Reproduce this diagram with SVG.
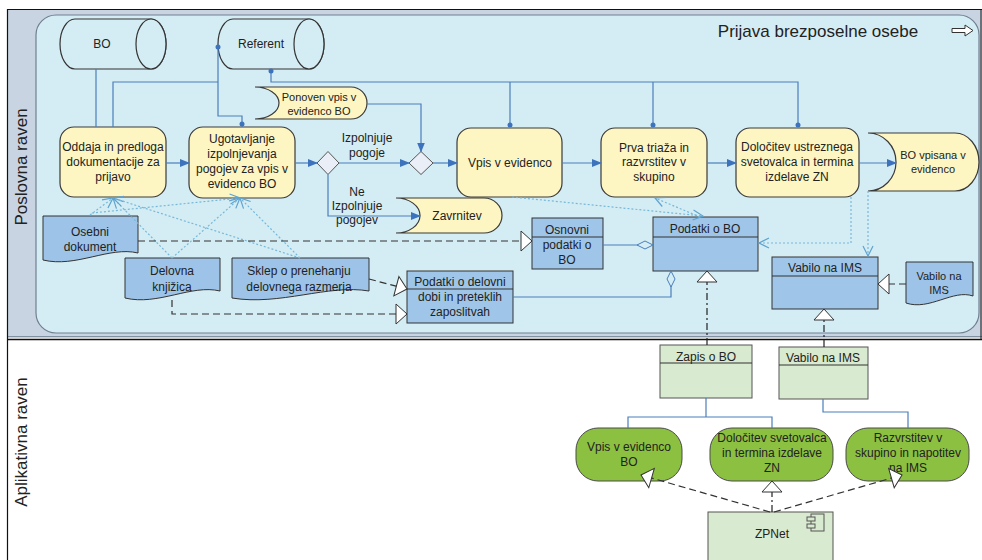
<svg xmlns="http://www.w3.org/2000/svg" width="982" height="560" viewBox="0 0 982 560">
<style>
.t{font-family:"Liberation Sans",Arial,sans-serif;font-size:12px;fill:#222;text-anchor:middle}
.s11{font-size:11px}
.lane{font-family:"Liberation Sans",Arial,sans-serif;font-size:17px;fill:#222;text-anchor:middle}
.yel{fill:#fdf6c3;stroke:#3a3a3a;stroke-width:1.2}
.cyl{fill:#d4edf4;stroke:#333;stroke-width:1.2}
.doc{fill:#9dc4e8;stroke:#333;stroke-width:1}
.cls{fill:#9fc6e9;stroke:#333;stroke-width:1}
.gw{fill:#e9eef7;stroke:#555;stroke-width:1}
.grn{fill:#8cc040;stroke:#4a4a4a;stroke-width:1}
.lg{fill:#d8eacf;stroke:#555;stroke-width:1}
.sep{stroke:#333;stroke-width:1;fill:none}
.flow{stroke:#4a7ebb;stroke-width:1.2;fill:none}
.dash{stroke:#333;stroke-width:1.2;stroke-dasharray:7 4;fill:none}
.dd{stroke:#222;stroke-width:1.2;stroke-dasharray:7 3 2 3;fill:none}
.dot{stroke:#77b8d8;stroke-width:1.2;stroke-dasharray:2 2;fill:none}
.pt{fill:#3d72bd}
</style>
<defs>
<marker id="fa" markerUnits="userSpaceOnUse" markerWidth="10" markerHeight="8" refX="9" refY="4" orient="auto"><path d="M0,0 L10,4 L0,8 Z" fill="#3d72bd"/></marker>
<marker id="tri" markerUnits="userSpaceOnUse" markerWidth="14" markerHeight="24" refX="12" refY="11" orient="auto"><path d="M1,1 L12,11 L1,21 Z" fill="#fff" stroke="#333" stroke-width="1"/></marker>
<marker id="dia" markerUnits="userSpaceOnUse" markerWidth="19" markerHeight="11" refX="17" refY="5" orient="auto"><path d="M1,5 L9,1 L17,5 L9,9 Z" fill="#d4edf4" stroke="#4a7ebb" stroke-width="1"/></marker>
<marker id="va" markerUnits="userSpaceOnUse" markerWidth="13" markerHeight="13" refX="11" refY="6" orient="auto"><path d="M1,1 L11,6 L1,11" fill="none" stroke="#5fa3d0" stroke-width="1.2"/></marker>
</defs>

<!-- lanes -->
<g id="lanes">
<rect x="7" y="9" width="975" height="329" fill="#c9d4e3"/>
<rect x="36" y="15" width="943" height="318" rx="20" fill="#d4edf4" stroke="#6f7f8f" stroke-width="1.2"/>
<line x1="7" y1="336.5" x2="982" y2="336.5" stroke="#8090a0" stroke-width="1"/>
<line x1="7" y1="9.5" x2="982" y2="9.5" stroke="#111" stroke-width="1.2"/>
<line x1="981" y1="9" x2="981" y2="339" stroke="#111" stroke-width="1"/>
<line x1="7" y1="339.5" x2="982" y2="339.5" stroke="#111" stroke-width="1.5"/>
<line x1="7.5" y1="9" x2="7.5" y2="560" stroke="#111" stroke-width="1.2"/>
<text class="lane" transform="translate(27,167) rotate(-90)">Poslovna raven</text>
<text class="lane" transform="translate(27,442) rotate(-90)">Aplikativna raven</text>
<text class="lane" x="818" y="37">Prijava brezposelne osebe</text>
<path d="M952,28.5 H965 V25 L973,30.5 L965,36 V32.5 H952 Z" fill="#fff" stroke="#333" stroke-width="1"/>
</g>

<!-- nodes -->
<g id="bo"><path class="cyl" d="M75,19 H151 A15,25 0 0 1 151,69 H75 A15,25 0 0 1 75,19 Z"/><ellipse class="cyl" cx="151" cy="44" rx="15" ry="25"/><text class="t" x="102" y="48">BO</text></g>
<g id="referent"><path class="cyl" d="M233,19 H309 A15,25 0 0 1 309,69 H233 A15,25 0 0 1 233,19 Z"/><ellipse class="cyl" cx="309" cy="44" rx="15" ry="25"/><text class="t" x="261" y="48">Referent</text></g>
<g id="oddaja"><rect class="yel" x="60" y="127" width="106" height="70" rx="14"/><text class="t" x="113" y="151">Oddaja in predloga</text><text class="t" x="113" y="166">dokumentacije za</text><text class="t" x="113" y="181">prijavo</text></g>
<g id="ugotavljanje"><rect class="yel" x="189" y="127" width="106" height="71" rx="14"/><text class="t" x="242" y="143">Ugotavljanje</text><text class="t" x="242" y="158">izpolnjevanja</text><text class="t" x="242" y="173">pogojev za vpis v</text><text class="t" x="242" y="188">evidenco BO</text></g>
<g id="gw1"><polygon class="gw" points="317,163 328,151.5 339,163 328,174.5"/></g>
<g id="gw2"><polygon class="gw" points="409,163 421,151.5 433,163 421,174.5"/></g>
<g id="lbl-izp"><text class="t" x="367" y="142">Izpolnjuje</text><text class="t" x="367" y="157">pogoje</text></g>
<g id="lbl-ne"><text class="t" x="357" y="196">Ne</text><text class="t" x="357" y="210">Izpolnjuje</text><text class="t" x="357" y="224">pogojev</text></g>
<g id="ponoven"><path class="yel" d="M255,87 H351 A16,16 0 0 1 351,119 H255 A24,16 0 0 0 255,87 Z"/><text class="t s11" x="319" y="101">Ponoven vpis v</text><text class="t s11" x="319" y="115">evidenco BO</text></g>
<g id="zavrnitev"><path class="yel" d="M396,198 H484 A18,17.5 0 0 1 484,233 H396 A24,17.5 0 0 0 396,198 Z"/><text class="t" x="457" y="220">Zavrnitev</text></g>
<g id="vpis"><rect class="yel" x="457" y="128" width="105" height="69" rx="14"/><text class="t" x="510" y="167">Vpis v evidenco</text></g>
<g id="prva"><rect class="yel" x="601" y="128" width="106" height="69" rx="14"/><text class="t" x="654" y="152">Prva triaža in</text><text class="t" x="654" y="166">razvrstitev v</text><text class="t" x="654" y="181">skupino</text></g>
<g id="dolocitev"><rect class="yel" x="736" y="128" width="123" height="69" rx="14"/><text class="t" x="797" y="151">Določitev ustreznega</text><text class="t" x="797" y="166">svetovalca in termina</text><text class="t" x="797" y="181">izdelave ZN</text></g>
<g id="bovpisana"><path class="yel" d="M868,133 H955 A24,29 0 0 1 955,191 H868 A28,29 0 0 0 868,133 Z"/><text class="t s11" x="933" y="159">BO vpisana v</text><text class="t s11" x="933" y="173">evidenco</text></g>

<g id="osebni"><path class="doc" d="M43,216 H138 V253 C109.5,246 76,268 43,260 Z"/><text class="t" x="90" y="236">Osebni</text><text class="t" x="90" y="251">dokument</text></g>
<g id="delovna"><path class="doc" d="M125,258 H220 V291 C191.5,284 158,306 125,298 Z"/><text class="t" x="172" y="275">Delovna</text><text class="t" x="172" y="291">knjižica</text></g>
<g id="sklep"><path class="doc" d="M232,258 H369 V291 C328,284 280,306 232,298 Z"/><text class="t" x="299" y="275">Sklep o prenehanju</text><text class="t" x="299" y="291">delovnega razmerja</text></g>
<g id="osnovni"><rect class="cls" x="532" y="218" width="71" height="51"/><line class="sep" x1="532" y1="237" x2="603" y2="237"/><text class="t" x="567" y="234">Osnovni</text><text class="t" x="567" y="249">podatki o</text><text class="t" x="567" y="264">BO</text></g>
<g id="delovnadoba"><rect class="cls" x="407" y="271" width="106" height="52"/><line class="sep" x1="407" y1="289" x2="513" y2="289"/><text class="t" x="460" y="286">Podatki o delovni</text><text class="t" x="460" y="301">dobi in preteklih</text><text class="t" x="460" y="316">zaposlitvah</text></g>
<g id="podatkibo"><rect class="cls" x="653" y="217" width="105" height="54"/><line class="sep" x1="653" y1="237" x2="758" y2="237"/><text class="t" x="705" y="233">Podatki o BO</text></g>
<g id="vabilocls"><rect class="cls" x="772" y="257" width="106" height="52"/><line class="sep" x1="772" y1="276" x2="878" y2="276"/><text class="t" x="825" y="272">Vabilo na IMS</text></g>
<g id="vabilodoc"><path class="doc" d="M906,262 H973 V296 C953,289 929.5,311 906,303 Z"/><text class="t s11" x="939" y="280">Vabilo na</text><text class="t s11" x="939" y="294">IMS</text></g>

<g id="zapis"><rect class="lg" x="660" y="345" width="92" height="53"/><line class="sep" x1="660" y1="363" x2="752" y2="363"/><text class="t" x="706" y="361">Zapis o BO</text></g>
<g id="vabiloapp"><rect class="lg" x="779" y="347" width="89" height="52"/><line class="sep" x1="779" y1="365" x2="868" y2="365"/><text class="t" x="823" y="362">Vabilo na IMS</text></g>
<g id="svc-vpis"><rect class="grn" x="576" y="428" width="106" height="53" rx="22"/><text class="t" x="629" y="451">Vpis v evidenco</text><text class="t" x="629" y="466">BO</text></g>
<g id="svc-dol"><rect class="grn" x="710" y="428" width="123" height="53" rx="22"/><text class="t" x="772" y="442">Določitev svetovalca</text><text class="t" x="772" y="457">in termina izdelave</text><text class="t" x="772" y="472">ZN</text></g>
<g id="svc-raz"><rect class="grn" x="846" y="428" width="123" height="53" rx="22"/><text class="t" x="908" y="442">Razvrstitev v</text><text class="t" x="908" y="457">skupino in napotitev</text><text class="t" x="908" y="472">na IMS</text></g>
<g id="zpnet"><rect class="lg" x="708" y="512" width="125" height="60"/><rect class="lg" x="811" y="514" width="13" height="17"/><rect class="lg" x="807" y="517" width="8" height="4"/><rect class="lg" x="807" y="524" width="8" height="4"/><text class="t" x="772" y="538">ZPNet</text></g>

<!-- connectors -->
<g id="connectors">
<path class="flow" d="M96,69 V127"/>
<path class="flow" d="M113,127 V82 H218"/>
<path class="flow" d="M218,47 V116 H242 V127"/>
<path class="flow" d="M271,70 V82 H798 V127"/>
<path class="flow" d="M510,82 V127"/>
<path class="flow" d="M653,82 V127"/>
<circle class="pt" cx="218" cy="47" r="2.5"/>
<circle class="pt" cx="242" cy="124" r="2.5"/>
<circle class="pt" cx="271" cy="71" r="2.5"/>
<circle class="pt" cx="510" cy="125" r="2.5"/>
<circle class="pt" cx="653" cy="125" r="2.5"/>
<circle class="pt" cx="798" cy="125" r="2.5"/>
<path class="flow" d="M166,163 H189" marker-end="url(#fa)"/>
<path class="flow" d="M295,163 H317" marker-end="url(#fa)"/>
<path class="flow" d="M339,163 H409" marker-end="url(#fa)"/>
<path class="flow" d="M328,174.5 V216 H420" marker-end="url(#fa)"/>
<path class="flow" d="M367,104 H421 V151.5" marker-end="url(#fa)"/>
<path class="flow" d="M433,163 H457" marker-end="url(#fa)"/>
<path class="flow" d="M562,163 H601" marker-end="url(#fa)"/>
<path class="flow" d="M707,163 H736" marker-end="url(#fa)"/>
<path class="flow" d="M859,163 H896" marker-end="url(#fa)"/>

<path class="dot" d="M90,215 L113,198" marker-end="url(#va)"/>
<path class="dot" d="M92,213 L240,198" marker-end="url(#va)"/>
<path class="dot" d="M172,258 L113,198" marker-end="url(#va)"/>
<path class="dot" d="M172,258 L240,198" marker-end="url(#va)"/>
<path class="dot" d="M300,258 L113,198" marker-end="url(#va)"/>
<path class="dot" d="M300,258 L240,198" marker-end="url(#va)"/>
<path class="dot" d="M512,197 L703,216" marker-end="url(#va)"/>
<path class="dot" d="M700,217 L655,198" marker-end="url(#va)"/>
<path class="dot" d="M851,197 V243 H759" marker-end="url(#va)"/>
<path class="dot" d="M868,191 V256" marker-end="url(#va)"/>

<path class="flow" d="M603,245 H653" marker-end="url(#dia)"/>
<path class="flow" d="M513,297 H671 V271" marker-end="url(#dia)"/>
<path class="dash" d="M138,241 H532" marker-end="url(#tri)"/>
<path class="dash" d="M369,279 L407,289" marker-end="url(#tri)"/>
<path class="dash" d="M172,300 V314 H407" marker-end="url(#tri)"/>
<path class="dash" d="M906,284 H878" marker-end="url(#tri)"/>
<path class="dd" d="M707,345 V271" marker-end="url(#tri)"/>
<path class="dd" d="M824,347 V309" marker-end="url(#tri)"/>

<path class="flow" d="M706,398 V417"/>
<path class="flow" d="M628,428 V417 H772 V428"/>
<path class="flow" d="M823,399 V412 H908 V428"/>
<path class="dash" d="M770,512 L641,475" marker-end="url(#tri)"/>
<path class="dd" d="M772,512 V481" marker-end="url(#tri)"/>
<path class="dash" d="M774,512 L902,475" marker-end="url(#tri)"/>
</g>
</svg>
